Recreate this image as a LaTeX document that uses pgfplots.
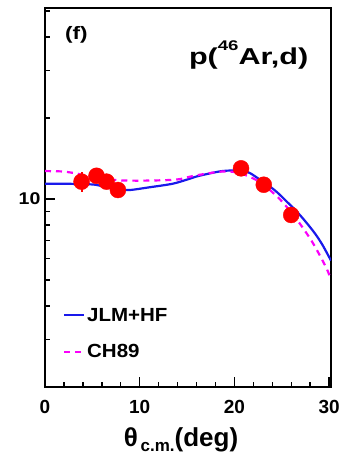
\documentclass[border=0pt]{standalone}
\usepackage{fontspec}
\setmainfont{Liberation Sans}
\usepackage{pgfplots}
\pgfplotsset{compat=1.18}
\definecolor{jlmblue}{RGB}{25,25,235}
\definecolor{chmag}{RGB}{250,0,250}
\definecolor{ptred}{RGB}{255,0,0}

\begin{document}
\begin{tikzpicture}
\begin{axis}[
  scale only axis, width=286pt, height=379pt,
  xmin=0, xmax=30.2, ymode=log, ymin=2, ymax=51.3,
  axis line style={line width=1.8pt},
  xtick={0,10,20,30}, minor xtick={2,4,6,8,12,14,16,18,22,24,26,28},
  ytick={10}, yticklabels={\scalebox{1.15}[1]{10}}, minor ytick={2,3,4,5,6,7,8,9,20,30,40,50},
  tick pos=left, tick align=inside,
  major tick length=10pt, minor tick length=5pt,
  every tick/.append style={black, line width=1.4pt},
  /pgf/number format/assume math mode=true,
  xticklabel style={font=\bfseries\fontsize{19}{19}\selectfont, yshift=-10pt},
  yticklabel style={font=\bfseries\fontsize{17}{17}\selectfont, xshift=-1pt},
  xlabel={θ\raisebox{-0.2em}{\fontsize{17}{17}\selectfont\,c.m.}(deg)},
  xlabel style={font=\bfseries\fontsize{26}{26}\selectfont, yshift=-7pt, xshift=-7pt},
  legend style={draw=none, fill=none, at={(axis description cs:0.062,0.214)}, anchor=north west,
    font=\bfseries\fontsize{19}{19}\selectfont, row sep=18pt, inner sep=0pt,
    nodes={inner sep=2pt}},
  legend cell align=left,
  legend image code/.code={\draw[#1] (0pt,0pt) -- (20pt,0pt);},
]
\addplot[jlmblue, line width=2.2pt, smooth] coordinates {
(0,11.4) (2,11.4) (4,11.35) (5.3,11.3) (6.8,11.0) (8,10.85) (9,10.8) (11,11.05)
(13.5,11.4) (15.3,11.9) (16.3,12.2) (18.7,12.7) (20.5,12.75) (21.5,12.55)
(22.4,12.0) (23.5,11.3) (24.5,10.6) (25.5,9.8) (26.5,9.05) (27.5,8.25)
(28.5,7.45) (29.3,6.75) (30.2,5.9)
};
\addlegendentry{\scalebox{1.08}[1]{JLM+HF}}
\addplot[chmag, line width=2.2pt, dash pattern=on 6pt off 5pt, smooth] coordinates {
(0,12.7) (2,12.65) (3,12.5) (5,12.1) (7.6,11.75) (10,11.7) (12.8,11.75)
(14.2,11.85) (15.3,12.1) (16.3,12.3) (18.7,12.65) (20.5,12.5) (22.6,11.6)
(24.7,10.06) (26.5,8.47) (28.2,6.94) (29.7,5.55) (30.2,5.0)
};
\addlegendentry{\scalebox{1.08}[1]{CH89}}
\addplot[only marks, mark=*, mark size=8pt, ptred, mark options={draw=ptred, fill=ptred},
  error bars/.cd, y dir=both, y explicit, error mark=none,
  error bar style={ptred, line width=2pt}] coordinates {
(3.86,11.6) +- (0,1.0)
(5.44,12.2) +- (0,0.3)
(6.5,11.6) +- (0,0.3)
(7.7,10.8) +- (0,0.3)
(20.7,13.0) +- (0,0.3)
(23.1,11.3) +- (0,0.3)
(26.0,8.72) +- (0,0.3)
};
\node[font=\bfseries\fontsize{18}{18}\selectfont] at (rel axis cs:0.110,0.929) {\scalebox{1.25}[1]{(f)}};
\node[font=\bfseries\fontsize{23}{23}\selectfont] at (rel axis cs:0.712,0.876) {\scalebox{1.33}[1]{p(\raisebox{0.6em}{\fontsize{14}{14}\selectfont 46}Ar,d)}};
\end{axis}
\pgfresetboundingbox
\path (current axis.south west) ++(-45pt,-68pt) coordinate (bbA);
\path (current axis.north east) ++(17pt,8pt) coordinate (bbB);
\path (bbA) rectangle (bbB);
\end{tikzpicture}
\end{document}
